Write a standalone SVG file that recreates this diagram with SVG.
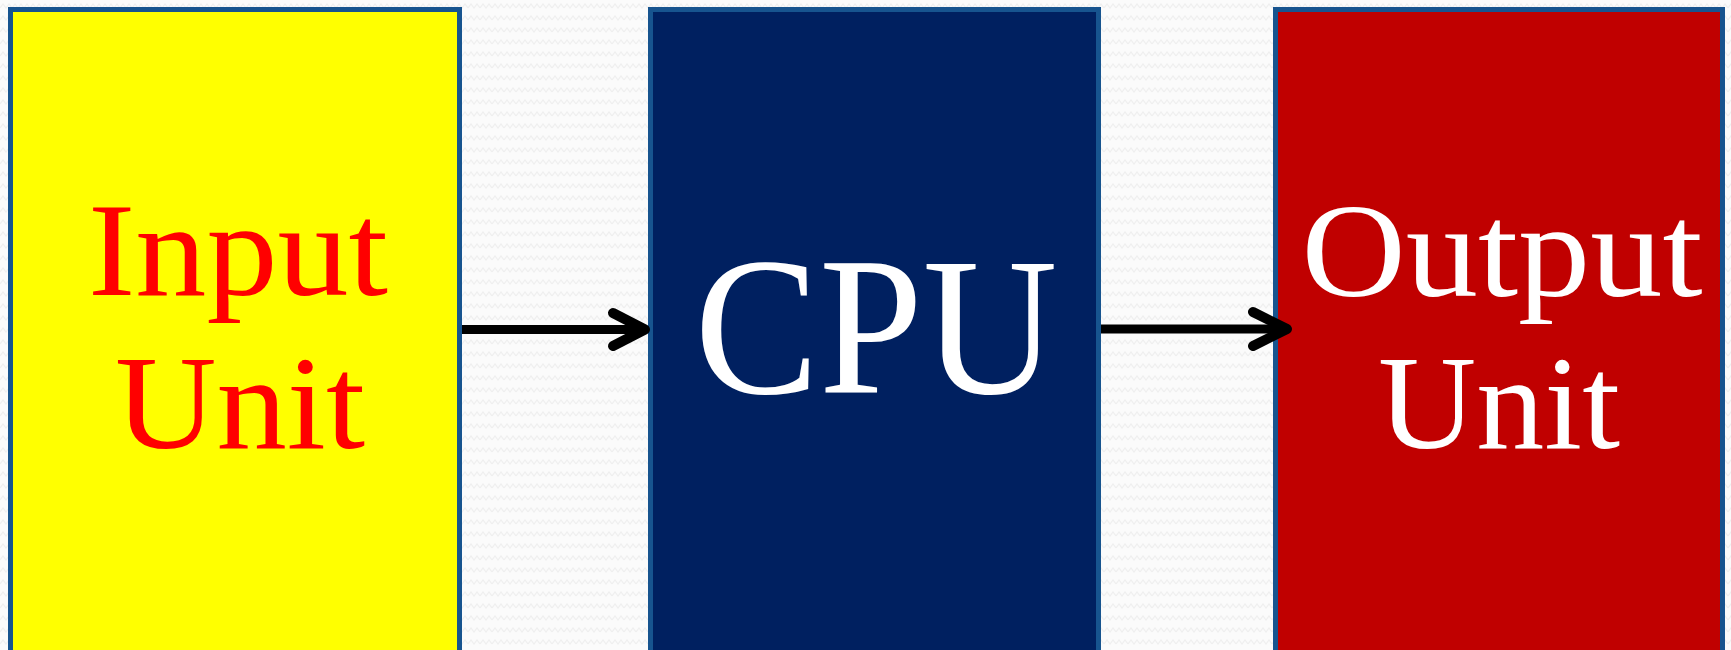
<svg xmlns="http://www.w3.org/2000/svg" width="1731" height="650" viewBox="0 0 1731 650">
<defs>
<pattern id="zz" width="12" height="12" patternUnits="userSpaceOnUse">
<rect width="12" height="12" fill="#fbfbfb"/>
<path d="M0,8 L3,4 L6,8 L9,4 L12,8" fill="none" stroke="#efefef" stroke-width="1.2"/>
</pattern>
<style>
.box{stroke:#17548f;stroke-width:5}
.lbl{font-family:"Liberation Serif","DejaVu Serif",serif;text-anchor:middle}
.conn{stroke:#000;stroke-width:9;fill:none}
.head{stroke:#000;stroke-width:10;fill:none;stroke-linecap:round;stroke-linejoin:round}
</style>
</defs>
<rect width="1731" height="650" fill="url(#zz)"/>
<g id="input-unit">
<rect class="box" x="10.5" y="9.5" width="449" height="650" fill="#ffff00"/>
<text class="lbl" x="238" y="295" font-size="134" fill="#ff0000" textLength="300" lengthAdjust="spacingAndGlyphs">Input</text>
<text class="lbl" x="240" y="448" font-size="134" fill="#ff0000" textLength="250" lengthAdjust="spacingAndGlyphs">Unit</text>
</g>
<g id="cpu">
<rect class="box" x="650.5" y="9.5" width="448" height="650" fill="#002060"/>
<text class="lbl" x="876" y="393" font-size="198" fill="#ffffff" textLength="363" lengthAdjust="spacingAndGlyphs">CPU</text>
</g>
<g id="output-unit">
<rect class="box" x="1275.5" y="9.5" width="447" height="650" fill="#c00000"/>
<text class="lbl" x="1502" y="296" font-size="134" fill="#ffffff" textLength="401" lengthAdjust="spacingAndGlyphs">Output</text>
<text class="lbl" x="1499" y="448" font-size="134" fill="#ffffff" textLength="242" lengthAdjust="spacingAndGlyphs">Unit</text>
</g>
<g id="connectors">
<line class="conn" x1="462" y1="329.5" x2="644" y2="329.5"/>
<polyline class="head" points="613,313 645,329.5 613,346"/>
<line class="conn" x1="1101" y1="329" x2="1286" y2="329"/>
<polyline class="head" points="1253,312 1287,329 1253,346"/>
</g>
</svg>
